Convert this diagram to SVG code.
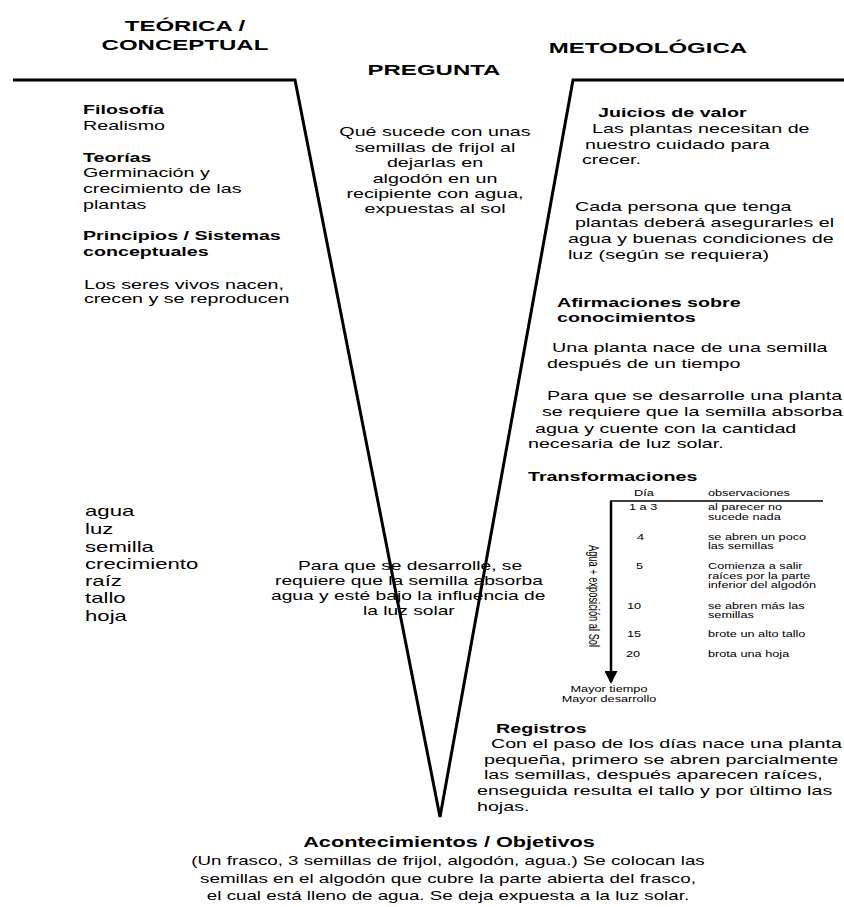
<svg xmlns="http://www.w3.org/2000/svg" width="844" height="907" viewBox="0 0 844 907">
<defs>
<style>
.t{font-family:"Liberation Sans",Arial,sans-serif;font-size:12.7px;fill:#000}
.b{font-weight:bold}
.h{font-family:"Liberation Sans",Arial,sans-serif;font-size:15.5px;font-weight:bold;fill:#000}
.l{font-family:"Liberation Sans",Arial,sans-serif;font-size:14.3px;fill:#000}
.s{font-family:"Liberation Sans",Arial,sans-serif;font-size:8.2px;fill:#000}
.m{text-anchor:middle}
.ln{stroke:#000;stroke-width:3;fill:none;stroke-linejoin:miter}
</style>
<marker id="arr" markerWidth="13" markerHeight="13" refX="11" refY="6.5" orient="auto" markerUnits="userSpaceOnUse">
<path d="M0,0 L13,6.5 L0,13 Z" fill="#000"/>
</marker>
</defs>
<rect width="844" height="907" fill="#fff"/>

<g id="connectors">
<path class="ln" d="M13,80 H295 L440,817 L573,80 H844"/>
</g>

<g id="titles" transform="scale(1.55,1)">
<text class="h m" x="119.35" y="31">TEÓRICA /</text>
<text class="h m" x="119.35" y="50">CONCEPTUAL</text>
<text class="h m" x="418.06" y="53">METODOLÓGICA</text>
<text class="h m" x="280" y="75">PREGUNTA</text>
</g>

<g id="teorica" transform="scale(1.55,1)">
<text class="t b" x="53.55" y="114">Filosofía</text>
<text class="t" x="53.55" y="130">Realismo</text>
<text class="t b" x="53.55" y="162">Teorías</text>
<text class="t" x="53.55" y="177">Germinación y</text>
<text class="t" x="53.55" y="193">crecimiento de las</text>
<text class="t" x="53.55" y="209">plantas</text>
<text class="t b" x="53.55" y="240">Principios / Sistemas</text>
<text class="t b" x="53.55" y="256">conceptuales</text>
<text class="t" x="54.19" y="289">Los seres vivos nacen,</text>
<text class="t" x="54.19" y="303">crecen y se reproducen</text>
</g>

<g id="conceptos" transform="scale(1.55,1)">
<text class="l" x="54.84" y="516">agua</text>
<text class="l" x="54.84" y="534">luz</text>
<text class="l" x="54.84" y="552">semilla</text>
<text class="l" x="54.84" y="569">crecimiento</text>
<text class="l" x="54.84" y="586">raíz</text>
<text class="l" x="54.84" y="603">tallo</text>
<text class="l" x="54.84" y="621">hoja</text>
</g>

<g id="pregunta" transform="scale(1.55,1)">
<text class="t m" x="280.65" y="136">Qué sucede con unas</text>
<text class="t m" x="280.65" y="152">semillas de frijol al</text>
<text class="t m" x="280.65" y="167">dejarlas en</text>
<text class="t m" x="280.65" y="183">algodón en un</text>
<text class="t m" x="280.65" y="198">recipiente con agua,</text>
<text class="t m" x="280.65" y="213">expuestas al sol</text>
</g>

<g id="principio-central" transform="scale(1.55,1)">
<text class="t" style="font-size:12.4px" x="192.26" y="570">Para que se desarrolle, se</text>
<text class="t" style="font-size:12.4px" x="177.42" y="585">requiere que la semilla absorba</text>
<text class="t" style="font-size:12.4px" x="174.84" y="600">agua y esté bajo la influencia de</text>
<text class="t" style="font-size:12.4px" x="234.19" y="615">la luz solar</text>
</g>

<g id="juicios" transform="scale(1.55,1)">
<text class="t b" x="385.81" y="117">Juicios de valor</text>
<text class="t" x="381.94" y="133">Las plantas necesitan de</text>
<text class="t" x="377.42" y="149">nuestro cuidado para</text>
<text class="t" x="375.48" y="164">crecer.</text>
<text class="t" x="370.97" y="211">Cada persona que tenga</text>
<text class="t" x="370.97" y="227">plantas deberá asegurarles el</text>
<text class="t" x="366.45" y="243">agua y buenas condiciones de</text>
<text class="t" x="366.45" y="259">luz (según se requiera)</text>
</g>

<g id="afirmaciones" transform="scale(1.55,1)">
<text class="t b" x="359.35" y="307">Afirmaciones sobre</text>
<text class="t b" x="359.35" y="322">conocimientos</text>
<text class="t" x="356.13" y="352">Una planta nace de una semilla</text>
<text class="t" x="352.90" y="368">después de un tiempo</text>
<text class="t" x="352.90" y="400">Para que se desarrolle una planta</text>
<text class="t" x="349.68" y="416">se requiere que la semilla absorba</text>
<text class="t" x="345.16" y="433">agua y cuente con la cantidad</text>
<text class="t" x="340.65" y="448">necesaria de luz solar.</text>
</g>

<g id="transformaciones">
<g transform="scale(1.55,1)">
<text class="t b" x="340.65" y="481">Transformaciones</text>
<text class="s m" x="415.48" y="496">Día</text>
<text class="s" x="456.77" y="496">observaciones</text>
<text class="s" x="405.81" y="510">1 a 3</text>
<text class="s" x="456.77" y="510">al parecer no</text>
<text class="s" x="456.77" y="520">sucede nada</text>
<text class="s" x="410.97" y="540">4</text>
<text class="s" x="456.77" y="540">se abren un poco</text>
<text class="s" x="456.77" y="549">las semillas</text>
<text class="s" x="410.32" y="569">5</text>
<text class="s" x="456.77" y="569">Comienza a salir</text>
<text class="s" x="456.77" y="579">raíces por la parte</text>
<text class="s" x="456.77" y="588">inferior del algodón</text>
<text class="s" x="404.52" y="609">10</text>
<text class="s" x="456.77" y="609">se abren más las</text>
<text class="s" x="456.77" y="618">semillas</text>
<text class="s" x="404.52" y="637">15</text>
<text class="s" x="456.77" y="637">brote un alto tallo</text>
<text class="s" x="403.87" y="657">20</text>
<text class="s" x="456.77" y="657">brota una hoja</text>
<text class="s m" x="392.90" y="692">Mayor tiempo</text>
<text class="s m" x="392.90" y="702">Mayor desarrollo</text>
</g>
<line x1="610" y1="501" x2="823" y2="501" stroke="#000" stroke-width="1.5"/>
<line x1="611" y1="501" x2="611" y2="682" stroke="#000" stroke-width="2.5" marker-end="url(#arr)"/>
<text class="s" style="font-size:9.3px" transform="translate(589,545) scale(1.55,1) rotate(90)">Agua + exposición al Sol</text>
</g>

<g id="registros" transform="scale(1.55,1)">
<text class="t b" x="320" y="733">Registros</text>
<text class="t" x="316.77" y="748">Con el paso de los días nace una planta</text>
<text class="t" x="312.26" y="764">pequeña, primero se abren parcialmente</text>
<text class="t" x="312.26" y="779">las semillas, después aparecen raíces,</text>
<text class="t" x="307.74" y="795">enseguida resulta el tallo y por último las</text>
<text class="t" x="307.74" y="811">hojas.</text>
</g>

<g id="acontecimientos" transform="scale(1.55,1)">
<text class="t b m" style="font-size:14px" x="289.68" y="847">Acontecimientos / Objetivos</text>
<text class="t m" style="font-size:12.1px" x="289.03" y="865">(Un frasco, 3 semillas de frijol, algodón, agua.) Se colocan las</text>
<text class="t m" style="font-size:12.1px" x="289.03" y="883">semillas en el algodón que cubre la parte abierta del frasco,</text>
<text class="t m" style="font-size:12.1px" x="289.03" y="900">el cual está lleno de agua. Se deja expuesta a la luz solar.</text>
</g>
</svg>
